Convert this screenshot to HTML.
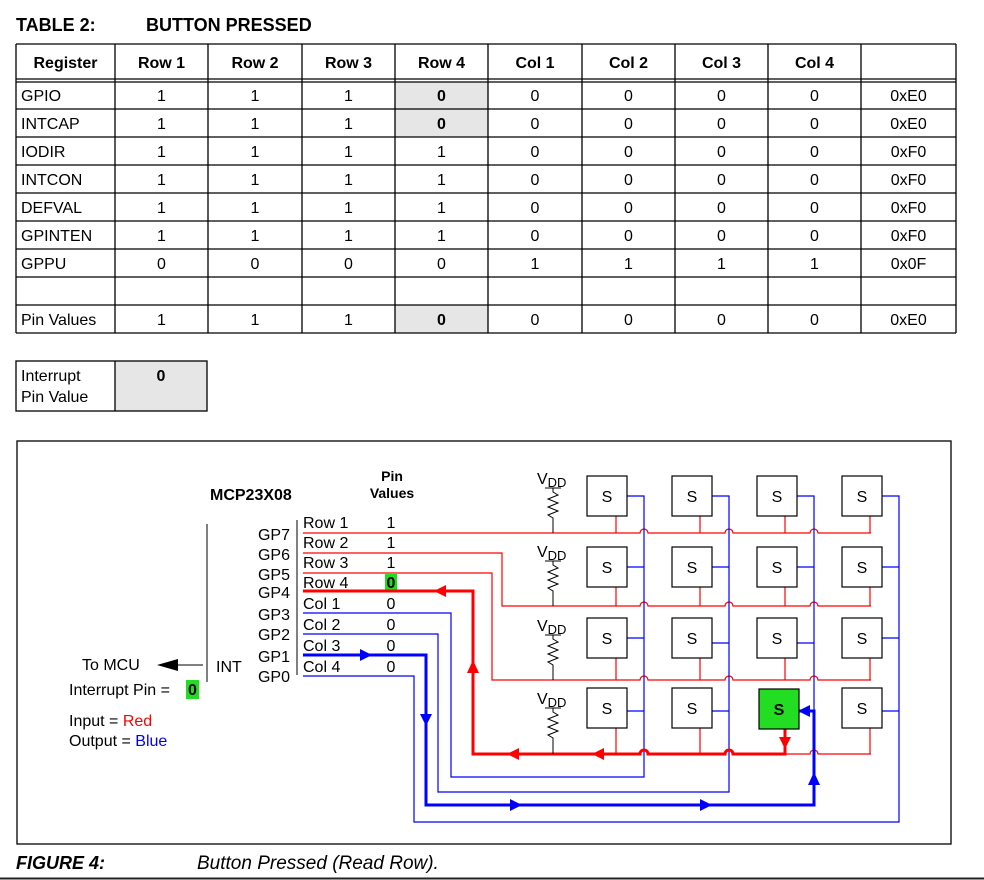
<!DOCTYPE html>
<html><head><meta charset="utf-8"><style>
html,body{margin:0;padding:0;background:#fff}
svg{display:block}
text{font-family:"Liberation Sans",Arial,sans-serif}
</style></head><body>
<svg width="984" height="880" viewBox="0 0 984 880" xmlns="http://www.w3.org/2000/svg">
<text x="16" y="31" font-size="18" font-weight="bold">TABLE 2:</text>
<text x="146" y="31" font-size="18" font-weight="bold">BUTTON PRESSED</text>
<g fill="#e6e6e6">
<rect x="395" y="82" width="93" height="55"/>
<rect x="395" y="305" width="93" height="28"/>
<rect x="115" y="361" width="92" height="50"/>
</g>
<g stroke="#000" stroke-width="1.3" fill="none">
<line x1="16" y1="44" x2="956" y2="44"/>
<line x1="16" y1="79" x2="956" y2="79"/>
<line x1="16" y1="82" x2="956" y2="82"/>
<line x1="16" y1="109" x2="956" y2="109"/>
<line x1="16" y1="137" x2="956" y2="137"/>
<line x1="16" y1="165" x2="956" y2="165"/>
<line x1="16" y1="193" x2="956" y2="193"/>
<line x1="16" y1="221" x2="956" y2="221"/>
<line x1="16" y1="249" x2="956" y2="249"/>
<line x1="16" y1="277" x2="956" y2="277"/>
<line x1="16" y1="305" x2="956" y2="305"/>
<line x1="16" y1="333" x2="956" y2="333"/>
<line x1="16" y1="44" x2="16" y2="333"/>
<line x1="115" y1="44" x2="115" y2="333"/>
<line x1="208" y1="44" x2="208" y2="333"/>
<line x1="302" y1="44" x2="302" y2="333"/>
<line x1="395" y1="44" x2="395" y2="333"/>
<line x1="488" y1="44" x2="488" y2="333"/>
<line x1="582" y1="44" x2="582" y2="333"/>
<line x1="675" y1="44" x2="675" y2="333"/>
<line x1="768" y1="44" x2="768" y2="333"/>
<line x1="861" y1="44" x2="861" y2="333"/>
<line x1="956" y1="44" x2="956" y2="333"/>
<rect x="16" y="361" width="191" height="50"/>
<line x1="115" y1="361" x2="115" y2="411"/>
</g>
<g font-size="16" text-anchor="middle" font-weight="bold">
<text x="65.5" y="68">Register</text><text x="161.5" y="68">Row 1</text><text x="255" y="68">Row 2</text><text x="348.5" y="68">Row 3</text><text x="441.5" y="68">Row 4</text><text x="535" y="68">Col 1</text><text x="628.5" y="68">Col 2</text><text x="721.5" y="68">Col 3</text><text x="814.5" y="68">Col 4</text>
</g>
<g font-size="16">
<text x="21" y="101">GPIO</text><text x="21" y="129">INTCAP</text><text x="21" y="157">IODIR</text><text x="21" y="185">INTCON</text><text x="21" y="213">DEFVAL</text><text x="21" y="241">GPINTEN</text><text x="21" y="269">GPPU</text><text x="21" y="325">Pin Values</text>
<text x="21" y="381">Interrupt</text><text x="21" y="402">Pin Value</text>
</g>
<g font-size="16" text-anchor="middle">
<text y="101"><tspan x="161.5">1</tspan><tspan x="255">1</tspan><tspan x="348.5">1</tspan><tspan x="441.5" font-weight="bold">0</tspan><tspan x="535">0</tspan><tspan x="628.5">0</tspan><tspan x="721.5">0</tspan><tspan x="814.5">0</tspan><tspan x="908.5">0xE0</tspan></text>
<text y="129"><tspan x="161.5">1</tspan><tspan x="255">1</tspan><tspan x="348.5">1</tspan><tspan x="441.5" font-weight="bold">0</tspan><tspan x="535">0</tspan><tspan x="628.5">0</tspan><tspan x="721.5">0</tspan><tspan x="814.5">0</tspan><tspan x="908.5">0xE0</tspan></text>
<text y="157"><tspan x="161.5">1</tspan><tspan x="255">1</tspan><tspan x="348.5">1</tspan><tspan x="441.5">1</tspan><tspan x="535">0</tspan><tspan x="628.5">0</tspan><tspan x="721.5">0</tspan><tspan x="814.5">0</tspan><tspan x="908.5">0xF0</tspan></text>
<text y="185"><tspan x="161.5">1</tspan><tspan x="255">1</tspan><tspan x="348.5">1</tspan><tspan x="441.5">1</tspan><tspan x="535">0</tspan><tspan x="628.5">0</tspan><tspan x="721.5">0</tspan><tspan x="814.5">0</tspan><tspan x="908.5">0xF0</tspan></text>
<text y="213"><tspan x="161.5">1</tspan><tspan x="255">1</tspan><tspan x="348.5">1</tspan><tspan x="441.5">1</tspan><tspan x="535">0</tspan><tspan x="628.5">0</tspan><tspan x="721.5">0</tspan><tspan x="814.5">0</tspan><tspan x="908.5">0xF0</tspan></text>
<text y="241"><tspan x="161.5">1</tspan><tspan x="255">1</tspan><tspan x="348.5">1</tspan><tspan x="441.5">1</tspan><tspan x="535">0</tspan><tspan x="628.5">0</tspan><tspan x="721.5">0</tspan><tspan x="814.5">0</tspan><tspan x="908.5">0xF0</tspan></text>
<text y="269"><tspan x="161.5">0</tspan><tspan x="255">0</tspan><tspan x="348.5">0</tspan><tspan x="441.5">0</tspan><tspan x="535">1</tspan><tspan x="628.5">1</tspan><tspan x="721.5">1</tspan><tspan x="814.5">1</tspan><tspan x="908.5">0x0F</tspan></text>
<text y="325"><tspan x="161.5">1</tspan><tspan x="255">1</tspan><tspan x="348.5">1</tspan><tspan x="441.5" font-weight="bold">0</tspan><tspan x="535">0</tspan><tspan x="628.5">0</tspan><tspan x="721.5">0</tspan><tspan x="814.5">0</tspan><tspan x="908.5">0xE0</tspan></text>
<text x="161" y="381" font-weight="bold">0</text>
</g>

<rect x="17" y="441" width="934" height="403" fill="none" stroke="#000" stroke-width="1.3"/>

<text x="210" y="500" font-size="16" font-weight="bold">MCP23X08</text>
<text x="392" y="481" font-size="14" font-weight="bold" text-anchor="middle">Pin</text>
<text x="392" y="498" font-size="14" font-weight="bold" text-anchor="middle">Values</text>
<line x1="207" y1="524" x2="207" y2="682" stroke="#000" stroke-width="1"/>
<line x1="297" y1="520" x2="297" y2="675" stroke="#000" stroke-width="1"/>
<g font-size="16" text-anchor="end">
<text x="290" y="540">GP7</text><text x="290" y="560">GP6</text><text x="290" y="580">GP5</text><text x="290" y="598">GP4</text><text x="290" y="620">GP3</text><text x="290" y="640">GP2</text><text x="290" y="662">GP1</text><text x="290" y="682">GP0</text>
</g>
<g font-size="16">
<text x="303" y="528">Row 1</text><text x="303" y="548">Row 2</text><text x="303" y="568">Row 3</text><text x="303" y="588">Row 4</text><text x="303" y="609">Col 1</text><text x="303" y="630">Col 2</text><text x="303" y="651">Col 3</text><text x="303" y="672">Col 4</text>
</g>
<rect x="385" y="574" width="12" height="16" fill="#22dd22"/>
<g font-size="16" text-anchor="middle">
<text x="391" y="528">1</text><text x="391" y="548">1</text><text x="391" y="568">1</text><text x="391" y="588" font-weight="bold">0</text><text x="391" y="609">0</text><text x="391" y="630">0</text><text x="391" y="651">0</text><text x="391" y="672">0</text>
</g>
<text x="216" y="672" font-size="16">INT</text>
<line x1="175" y1="665" x2="203" y2="665" stroke="#000" stroke-width="1"/>
<path d="M157,665 L178,659 L178,671 z" fill="#000"/>
<text x="82" y="670" font-size="16">To MCU</text>
<text x="69" y="695" font-size="16">Interrupt Pin =</text>
<rect x="186" y="680" width="13" height="19" fill="#22dd22"/>
<text x="188" y="695" font-size="16" font-weight="bold">0</text>
<text x="69" y="726" font-size="16">Input = <tspan fill="red">Red</tspan></text>
<text x="69" y="746" font-size="16">Output = <tspan fill="blue">Blue</tspan></text>

<g fill="none" stroke-width="1.2">
<path d="M303,533 H640 A4,4 0 0 1 648,533 H725 A4,4 0 0 1 733,533 H810 A4,4 0 0 1 818,533 H871" stroke="red"/>
<path d="M303,553 H502 V606 H640 A4,4 0 0 1 648,606 H725 A4,4 0 0 1 733,606 H810 A4,4 0 0 1 818,606 H871" stroke="red"/>
<path d="M303,573 H492 V680 H640 A4,4 0 0 1 648,680 H725 A4,4 0 0 1 733,680 H810 A4,4 0 0 1 818,680 H871" stroke="red"/>
<path d="M785,754 H810 A4,4 0 0 1 818,754 H871" stroke="red"/>
<path d="M616,516V533M700,516V533M785,516V533M870,516V533M616,587V606M700,587V606M785,587V606M870,587V606M616,658V680M700,658V680M785,658V680M870,658V680M616,728V754M700,728V754M870,728V754" stroke="red"/>
<path d="M303,613 H451 V777 H644 V496 H627" stroke="blue"/>
<path d="M303,634 H438 V792 H729 V496 H712" stroke="blue"/>
<path d="M814,711 V496 H797" stroke="blue"/>
<path d="M303,676 H414 V822 H899 V496 H882" stroke="blue"/>
<path d="M627,567H644M712,567H729M797,567H814M882,567H899M627,638H644M712,643H729M797,643H814M882,638H899M627,711H644M712,711H729M882,711H899" stroke="blue"/>
</g>
<path d="M303,591 H473 V754 H640 A4,4 0 0 1 648,754 H725 A4,4 0 0 1 733,754 H785 V728" fill="none" stroke="red" stroke-width="3"/>
<path d="M303,655 H426 V805 H814 V711 H797" fill="none" stroke="blue" stroke-width="3"/>
<g fill="red">
<path d="M434,591 L446,585 L446,597 z"/>
<path d="M473,660 L467,673 L479,673 z"/>
<path d="M507,754 L519,748 L519,760 z"/>
<path d="M592,754 L604,748 L604,760 z"/>
<path d="M785,749 L779,737 L791,737 z"/>
</g>
<g fill="blue">
<path d="M372,655 L360,649 L360,661 z"/>
<path d="M426,726 L420,714 L432,714 z"/>
<path d="M522,805 L510,799 L510,811 z"/>
<path d="M712,805 L700,799 L700,811 z"/>
<path d="M814,772 L808,785 L820,785 z"/>
<path d="M798,711 L810,705 L810,717 z"/>
</g>
<g stroke="#000" stroke-width="1" fill="none">
<path d="M545,488H561M553,488V492 l5,3 -10,4 10,4 -10,4 10,4 -10,4 5,3 V533"/>
<path d="M545,561H561M553,561V565 l5,3 -10,4 10,4 -10,4 10,4 -10,4 5,3 V606"/>
<path d="M545,635H561M553,635V639 l5,3 -10,4 10,4 -10,4 10,4 -10,4 5,3 V680"/>
<path d="M545,708H561M553,708V712 l5,3 -10,4 10,4 -10,4 10,4 -10,4 5,3 V754"/>
</g>
<g font-size="16">
<text x="537" y="484">V<tspan font-size="13" dy="3">DD</tspan></text>
<text x="537" y="557">V<tspan font-size="13" dy="3">DD</tspan></text>
<text x="537" y="631">V<tspan font-size="13" dy="3">DD</tspan></text>
<text x="537" y="704">V<tspan font-size="13" dy="3">DD</tspan></text>
</g>
<g stroke="#000" stroke-width="1.2" fill="#fff">
<rect x="587" y="476" width="40" height="40"/><rect x="672" y="476" width="40" height="40"/><rect x="757" y="476" width="40" height="40"/><rect x="842" y="476" width="40" height="40"/>
<rect x="587" y="547" width="40" height="40"/><rect x="672" y="547" width="40" height="40"/><rect x="757" y="547" width="40" height="40"/><rect x="842" y="547" width="40" height="40"/>
<rect x="587" y="618" width="40" height="40"/><rect x="672" y="618" width="40" height="40"/><rect x="757" y="618" width="40" height="40"/><rect x="842" y="618" width="40" height="40"/>
<rect x="587" y="688" width="40" height="40"/><rect x="672" y="688" width="40" height="40"/><rect x="759" y="689" width="40" height="40" fill="#22dd22"/><rect x="842" y="688" width="40" height="40"/>
</g>
<g font-size="16" text-anchor="middle">
<text x="607" y="502">S</text><text x="692" y="502">S</text><text x="777" y="502">S</text><text x="862" y="502">S</text>
<text x="607" y="573">S</text><text x="692" y="573">S</text><text x="777" y="573">S</text><text x="862" y="573">S</text>
<text x="607" y="644">S</text><text x="692" y="644">S</text><text x="777" y="644">S</text><text x="862" y="644">S</text>
<text x="607" y="714">S</text><text x="692" y="714">S</text><text x="779" y="715" font-weight="bold">S</text><text x="862" y="714">S</text>
</g>

<text x="16" y="869" font-size="18" font-weight="bold" font-style="italic">FIGURE 4:</text>
<text x="197" y="869" font-size="19" font-style="italic">Button Pressed (Read Row).</text>
<line x1="0" y1="878.5" x2="984" y2="878.5" stroke="#222" stroke-width="2"/>
</svg>
</body></html>
